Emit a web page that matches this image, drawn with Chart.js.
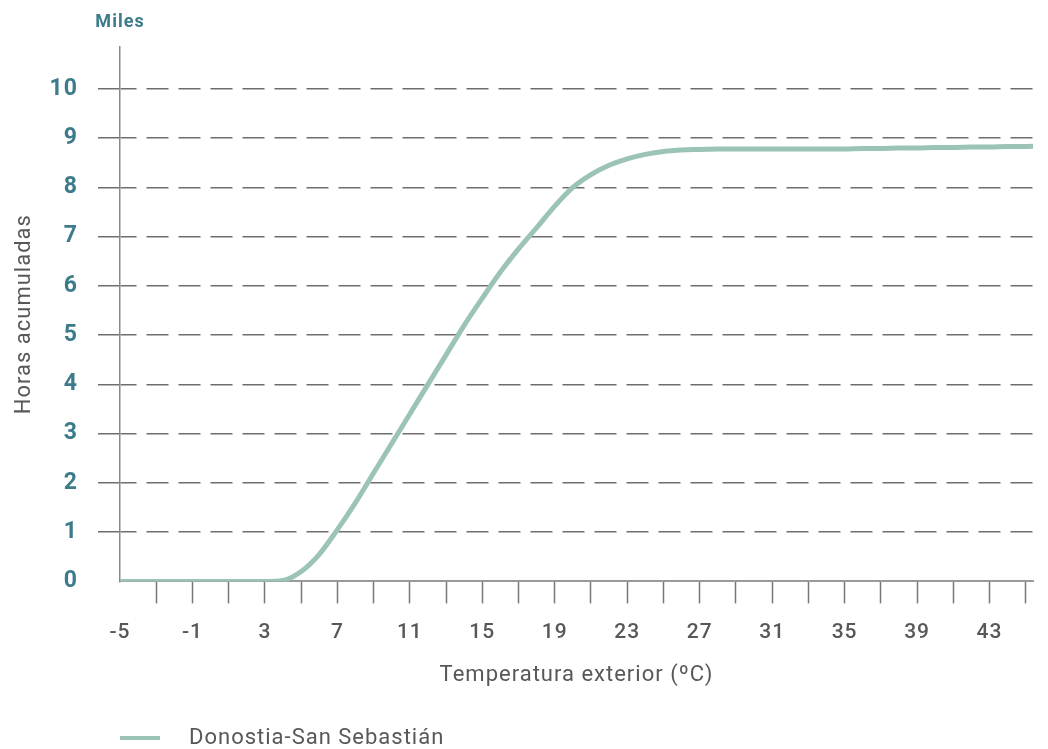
<!DOCTYPE html>
<html>
<head>
<meta charset="utf-8">
<script src="https://cdn.jsdelivr.net/npm/chart.js@4/dist/chart.umd.min.js"></script>
<style>
  html, body { margin: 0; padding: 0; background: #fff; overflow: hidden; }
  #wrap { width: 1048px; height: 749px; position: relative; }
</style>
</head>
<body>
<div id="wrap"><canvas id="c" width="1048" height="749"></canvas></div>
<script>
// ---- data ----
const temps = [-5,-4,-3,-2,-1,0,1,2,3,4,5,6,7,8,9,10,11,12,13,14,15,16,17,18,19,20,21,22,23,24,25,26,27,28,29,30,31,32,33,34,35,36,37,38,39,40,41,42,43,44,45,46];
const horas = [0,0,0,0,0,0,0,0,0,0.02,0.2,0.55,1.05,1.6,2.2,2.8,3.4,4.0,4.6,5.2,5.75,6.28,6.75,7.18,7.62,8.0,8.26,8.45,8.58,8.67,8.73,8.76,8.77,8.78,8.78,8.78,8.78,8.78,8.78,8.78,8.78,8.79,8.79,8.8,8.8,8.81,8.81,8.82,8.82,8.83,8.83,8.84];
const xTicks = [-5,-3,-1,1,3,5,7,9,11,13,15,17,19,21,23,25,27,29,31,33,35,37,39,41,43,45];
const xLabelTicks = [-5,-1,3,7,11,15,19,23,27,31,35,39,43];
const yTicks = [0,1,2,3,4,5,6,7,8,9,10];
const seriesName = 'Donostia-San Sebastián';
const yUnit = 'Miles';
const xTitle = 'Temperatura exterior (ºC)';
const yTitle = 'Horas acumuladas';

const TEAL = '#3b7b8a';
const GRAY_TEXT = '#585858';
const LINE = '#9cc4b6';
const SPACING = '1px';

// legend swatch image: 58px wide, line in left 40px
const sw = document.createElement('canvas');
sw.width = 58; sw.height = 6;
const sctx = sw.getContext('2d');
sctx.fillStyle = LINE;
sctx.fillRect(0, 1, 40, 4);

const spacingPlugin = {
  id: 'spacing',
  beforeUpdate(chart) { chart.ctx.letterSpacing = SPACING; },
  beforeLayout(chart) { chart.ctx.letterSpacing = SPACING; },
  beforeDraw(chart) { chart.ctx.letterSpacing = SPACING; }
};

const milesPlugin = {
  id: 'miles',
  afterDraw(chart) {
    const ctx = chart.ctx;
    ctx.save();
    ctx.font = 'bold 18px Roboto';
    ctx.fillStyle = TEAL;
    ctx.textAlign = 'center';
    ctx.textBaseline = 'middle';
    ctx.fillText(yUnit, chart.scales.y.right, 22);
    ctx.restore();
  }
};

new Chart(document.getElementById('c'), {
  type: 'line',
  data: {
    datasets: [{
      label: seriesName,
      data: temps.map((t, i) => ({x: t, y: horas[i]})),
      borderColor: LINE,
      backgroundColor: LINE,
      borderWidth: 5,
      pointRadius: 0,
      cubicInterpolationMode: 'monotone',
      pointStyle: sw
    }]
  },
  options: {
    responsive: false,
    animation: false,
    devicePixelRatio: 1,
    layout: { padding: { left: 0, right: 15, top: 47, bottom: -10 } },
    plugins: {
      legend: {
        position: 'bottom',
        align: 'start',
        fullSize: false,
        labels: {
          usePointStyle: true,
          pointStyleWidth: 58,
          padding: 0,
          color: GRAY_TEXT,
          font: { family: 'Roboto', size: 22 }
        }
      },
      tooltip: { enabled: false }
    },
    scales: {
      x: {
        type: 'linear',
        min: -5,
        max: 45.4,
        afterBuildTicks: s => { s.ticks = xTicks.map(v => ({value: v})); },
        border: { display: true, color: '#9a9a9a', width: 2 },
        grid: {
          drawOnChartArea: false,
          drawTicks: true,
          tickLength: 22,
          tickWidth: 1.5,
          tickColor: ctx => (ctx.tick && ctx.tick.value === -5) ? 'rgba(0,0,0,0)' : '#777777'
        },
        ticks: {
          autoSkip: false,
          maxRotation: 0,
          padding: 17,
          color: GRAY_TEXT,
          font: { family: 'Roboto', size: 21, weight: 500 },
          callback: v => xLabelTicks.includes(v) ? String(v) : ''
        },
        title: {
          display: true,
          text: xTitle,
          color: GRAY_TEXT,
          font: { family: 'Roboto', size: 22 },
          padding: { top: 0, bottom: 38 }
        }
      },
      y: {
        type: 'linear',
        min: 0,
        max: 10.85,
        afterBuildTicks: s => { s.ticks = yTicks.map(v => ({value: v})); },
        afterFit: s => { s.width = 120; },
        border: { display: true, color: '#8a8a8a', width: 1.5, dash: [22, 10], dashOffset: 6 },
        grid: {
          color: ctx => (ctx.tick && ctx.tick.value === 0) ? 'rgba(0,0,0,0)' : '#6e6e6e',
          lineWidth: 1.5,
          drawTicks: true,
          tickLength: 22,
          tickBorderDash: [],
          tickColor: ctx => (ctx.tick && ctx.tick.value === 0) ? 'rgba(0,0,0,0)' : '#6e6e6e',
          tickWidth: 1.5
        },
        ticks: {
          padding: 20,
          color: TEAL,
          font: { family: 'Roboto', size: 23, weight: 'bold' }
        },
        title: {
          display: true,
          text: yTitle,
          color: GRAY_TEXT,
          font: { family: 'Roboto', size: 22 },
          padding: { top: 11, bottom: 0 }
        }
      }
    }
  },
  plugins: [spacingPlugin, milesPlugin]
});
</script>
</body>
</html>
